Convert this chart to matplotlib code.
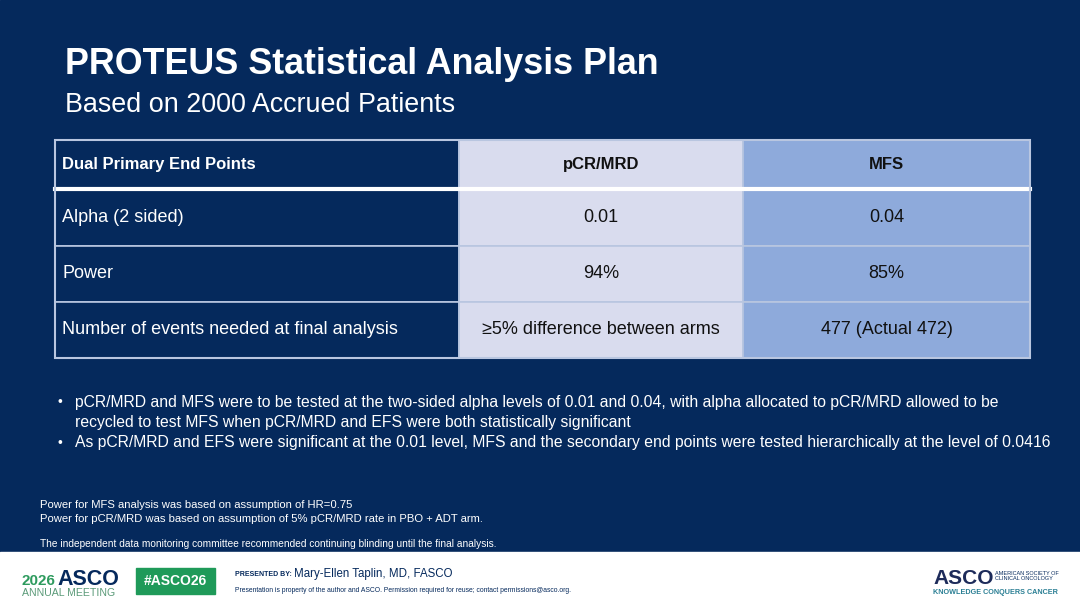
"""PROTEUS statistical analysis plan slide"""

import matplotlib.pyplot as plt
from matplotlib.patches import Rectangle

plt.rcParams['font.family'] = ['Liberation Sans', 'DejaVu Sans']

NAVY = '#05295c'
LAV = '#d9dcee'
BLUE = '#8eaadb'
GRID = '#b9c6e0'

title = 'PROTEUS Statistical Analysis Plan'
subtitle = 'Based on 2000 Accrued Patients'

header = ['Dual Primary End Points', 'pCR/MRD', 'MFS']
row_labels = ['Alpha (2 sided)', 'Power', 'Number of events needed at final analysis']
pcr_values = ['0.01', '94%', '\u22655% difference between arms']
mfs_values = ['0.04', '85%', '477 (Actual 472)']

bullets = [
    ['pCR/MRD and MFS were to be tested at the two-sided alpha levels of 0.01 and 0.04, with alpha allocated to pCR/MRD allowed to be',
     'recycled to test MFS when pCR/MRD and EFS were both statistically significant'],
    ['As pCR/MRD and EFS were significant at the 0.01 level, MFS and the secondary end points were tested hierarchically at the level of 0.0416'],
]
notes = [
    'Power for MFS analysis was based on assumption of HR=0.75',
    'Power for pCR/MRD was based on assumption of 5% pCR/MRD rate in PBO + ADT arm.',
]
note_dsmc = 'The independent data monitoring committee recommended continuing blinding until the final analysis.'
presenter = 'Mary-Ellen Taplin, MD, FASCO'

fig = plt.figure(figsize=(10.8, 6.08), dpi=100)
ax = fig.add_axes([0, 0, 1, 1])
ax.set_xlim(0, 1080)
ax.set_ylim(608, 0)
ax.axis('off')

# background + footer band
ax.add_patch(Rectangle((0, 0), 1080, 552, color=NAVY, zorder=0))
ax.add_patch(Rectangle((0, 552), 1080, 56, color='white', zorder=0))

ax.text(65, 74, title, color='white', fontsize=25.8, fontweight='bold', va='baseline')
ax.text(65, 112, subtitle, color='white', fontsize=19.4, va='baseline')

# table
col_x = [55, 459, 743, 1030]
row_y = [140, 189, 246, 302, 358]
col_bg = [NAVY, LAV, BLUE]
col_fg = ['white', '#111111', '#111111']
rows = [header] + [[lab, p, m] for lab, p, m in zip(row_labels, pcr_values, mfs_values)]
for r, row in enumerate(rows):
    y0, y1 = row_y[r], row_y[r + 1]
    for c, txt in enumerate(row):
        x0, x1 = col_x[c], col_x[c + 1]
        ax.add_patch(Rectangle((x0, y0), x1 - x0, y1 - y0, facecolor=col_bg[c],
                               edgecolor=GRID, linewidth=1.2, zorder=1))
        weight = 'bold' if r == 0 else 'normal'
        size = 12 if r == 0 else 13
        if c == 0:
            ax.text(x0 + 7, (y0 + y1) / 2, txt, color=col_fg[c], fontsize=size,
                    fontweight=weight, va='center', ha='left', zorder=3)
        else:
            ax.text((x0 + x1) / 2, (y0 + y1) / 2, txt, color=col_fg[c], fontsize=size,
                    fontweight=weight, va='center', ha='center', zorder=3)
# thick white line under header
ax.plot([col_x[0], col_x[-1]], [row_y[1], row_y[1]], color='white', linewidth=3, zorder=2)
ax.add_patch(Rectangle((col_x[0], row_y[0]), col_x[-1] - col_x[0], row_y[-1] - row_y[0],
                       fill=False, edgecolor=GRID, linewidth=1.5, zorder=2))

# bullets
line_y = [[402, 422], [443]]
for ys, lines in zip(line_y, bullets):
    ax.text(57, ys[0], '\u2022', color='white', fontsize=10, va='center', ha='left')
    for y, txt in zip(ys, lines):
        ax.text(75, y, txt, color='white', fontsize=11.35, va='center')

# footnotes
ax.text(40, 505, notes[0], color='white', fontsize=8.1, va='center')
ax.text(40, 519, notes[1], color='white', fontsize=8.1, va='center')
ax.text(40, 544, note_dsmc, color='white', fontsize=7.3, va='center')

# footer: left logo
ax.text(22, 585, '2026', color='#2e9b5e', fontsize=11, fontweight='bold', va='baseline')
ax.text(57, 585, 'ASCO', color=NAVY, fontsize=15.5, fontweight='bold', va='baseline')
ax.text(22, 593, 'ANNUAL MEETING', color='#5a9a78', fontsize=7.6, va='center')
ax.add_patch(Rectangle((136, 568), 79, 26, color='#1f9a59', zorder=1))
ax.text(175.5, 581, '#ASCO26', color='white', fontsize=10, fontweight='bold',
        ha='center', va='center', zorder=2)
ax.text(235, 575, 'PRESENTED BY:', color=NAVY, fontsize=5, fontweight='bold', va='center')
ax.text(294, 574, presenter, color=NAVY, fontsize=8.3, va='center')
ax.text(235, 591, 'Presentation is property of the author and ASCO. Permission required for reuse; contact permissions@asco.org.',
        color=NAVY, fontsize=4.85, va='center')

# footer: right logo
ax.text(933, 584, 'ASCO', color='#1d2b5a', fontsize=15, fontweight='bold', va='baseline')
ax.text(995, 576, 'AMERICAN SOCIETY OF\nCLINICAL ONCOLOGY', color=NAVY, fontsize=4,
        va='center', linespacing=1.1)
ax.text(933, 592, 'KNOWLEDGE CONQUERS CANCER', color='#2a7f94', fontsize=5.2,
        fontweight='bold', va='center')

fig.savefig('out.png', dpi=100)
